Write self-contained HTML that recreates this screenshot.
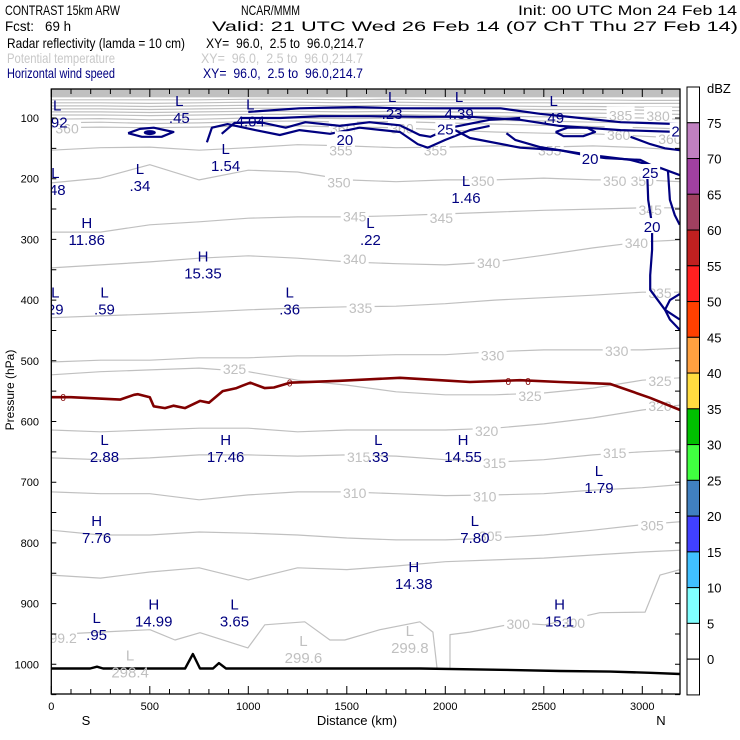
<!DOCTYPE html>
<html><head><meta charset="utf-8"><style>
body{margin:0;background:#fff;}
svg{display:block;font-family:"Liberation Sans",sans-serif;}
#hdr text{white-space:pre;}
</style></head><body>
<svg id="chart" width="740" height="740" viewBox="0 0 740 740" xmlns="http://www.w3.org/2000/svg">
<rect x="0" y="0" width="740" height="740" fill="#fff"/>
<g id="hdr" font-size="14">
<text x="5" y="15" textLength="115" lengthAdjust="spacingAndGlyphs">CONTRAST 15km ARW</text>
<text x="241" y="15" textLength="59" lengthAdjust="spacingAndGlyphs">NCAR/MMM</text>
<text x="518" y="15" textLength="219" lengthAdjust="spacingAndGlyphs">Init: 00 UTC Mon 24 Feb 14</text>
<text x="5" y="31" textLength="66" lengthAdjust="spacingAndGlyphs">Fcst:   69 h</text>
<text x="212" y="31" textLength="526" lengthAdjust="spacingAndGlyphs">Valid: 21 UTC Wed 26 Feb 14 (07 ChT Thu 27 Feb 14)</text>
<text x="7" y="48" textLength="178" lengthAdjust="spacingAndGlyphs">Radar reflectivity (lamda = 10 cm)</text>
<text x="206" y="48" textLength="158" lengthAdjust="spacingAndGlyphs">XY=  96.0,  2.5 to  96.0,214.7</text>
<text x="7" y="63" fill="#c8c8c8" textLength="108" lengthAdjust="spacingAndGlyphs">Potential temperature</text>
<text x="201" y="63" fill="#c8c8c8" textLength="162" lengthAdjust="spacingAndGlyphs">XY=  96.0,  2.5 to  96.0,214.7</text>
<text x="7" y="78" fill="#000080" textLength="108" lengthAdjust="spacingAndGlyphs">Horizontal wind speed</text>
<text x="203" y="78" fill="#000080" textLength="160" lengthAdjust="spacingAndGlyphs">XY=  96.0,  2.5 to  96.0,214.7</text>
</g>
<g id="plot"></g>
<g id="axes"></g>
<g id="cbar"></g>
</svg>
<script>
// ---- data ----
const dist = [0,250,500,750,1000,1250,1500,1750,2000,2250,2500,2750,3000,3193];
const thetaLevels = ['355','350','345','340','335','330','325','320','315','310','305','302'];
const theta355 = [153,149,148,153,149,144,146,149,148,146,148,146,149,153];
const theta350 = [207,199,177,202,186,189,202,205,202,202,199,202,202,205];
const theta345 = [288,288,276,271,265,263,263,261,258,255,252,250,248,248];
const theta340 = [347,342,337,331,327,331,337,340,342,337,326,314,304,301];
const theta335 = [429,426,423,420,416,413,411,410,406,400,396,392,387,387];
const theta330 = [502,499,499,495,495,492,492,490,490,485,482,482,482,479];
const theta325 = [523,518,515,512,518,532,540,551,556,556,553,545,532,528];
const theta320 = [614,617,614,611,611,617,614,614,614,611,604,594,581,573];
const theta315 = [660,663,660,655,655,657,655,657,663,667,663,655,650,647];
const theta310 = [716,719,719,729,721,716,716,719,722,721,719,713,709,704];
const theta305 = [779,787,787,782,784,787,792,795,795,792,787,779,770,765];
const theta302 = [853,858,848,841,861,841,844,838,831,828,825,820,815,812];
const theta360 = [116,115,116,115,113,113,115,116,120,123,125,126,130,133];
const thetaTop1 = [108,107,109,108,106,105,107,106,108,110,112,114,116,118];
const thetaTop2 = [102,101,103,102,100,100,101,100,102,104,105,107,108,110];
const thetaTop3 = [95,95,96,95,94,94,95,94,96,97,98,99,100,102];
const thetaTop4 = [90,90,91,90,89,89,90,89,90,91,92,92,93,94];
const thetaTop5 = [85,85,86,85,84,84,85,84,85,85,86,86,87,88];
const thetaTop6 = [80,80,81,80,79,79,80,79,80,80,81,81,82,82];
const thetaTop7 = [75,75,76,75,74,74,75,74,75,75,75,76,76,76];
const thetaTop8 = [70,70,70,70,69,69,70,69,70,70,70,70,71,71];
const theta300Dist = [0,247,501,628,755,998,1084,1287,1414,1490,1668,1871,1937,1958];
const theta300P = [951,947,943,960,948,973,935,930,960,960,943,930,947,1006];
const theta300bDist = [2024,2024,2125,2364,2506,2785,3014,3090,3192];
const theta300bP = [1006,951,947,932,935,915,914,853,844];
const frzDist = [0,100,349,420,440,500,520,577,620,679,755,800,870,940,970,1010,1084,1130,1211,1465,1770,1973,2125,2379,2582,2836,3039,3192];
const frzP = [560,560,564,556,555,560,575,578,574,578,566,569,550,545,541,536,545,544,536,533,528,532,535,532,535,538,561,581];
const terrDist = [0,197,232,263,679,719,755,821,851,887,1871,2278,2583,2837,3040,3192];
const terrP = [1007,1007,1004,1007,1007,983,1007,1007,998,1007,1007,1009,1011,1012,1014,1016];
const windA_d = [790,815,895,1035,1160,1260,1415,1565,1770,1860,1910,2000,2125,2225];
const windA_p = [140,116,110,120,128,120,126,116,123,143,149,136,120,113];
const windB_d = [865,930,1060,1190,1290,1465,1615,1770,1870,1925,2025,2225,2380];
const windB_p = [126,108,107,116,107,113,107,112,128,131,116,103,100];
const windC_d = [1000,1260,1540,1770,2025,2280,2480,2685,2890,3190];
const windC_p = [90,84,82,84,84,84,93,100,107,110];
const windD_d = [960,1160,1365,1615,1870,2125,2380,2580,2890,3190];
const windD_p = [100,100,97,97,98,98,103,113,120,123];
const windE_d = [2050,2125,2380,2580,2735,2815,2990,3040,3090];
const windE_p = [120,133,149,153,163,166,169,177,186];
const windF_d = [2310,2355,2480,2735,2940,3090,3190];
const windF_p = [125,136,148,161,169,182,194];
const windG_d = [2940,3040,3115,3190];
const windG_p = [131,143,150,153];
const windH_d = [3025,3030,3050,3050,3040,3040,3115,3190];
const windH_p = [191,235,276,317,359,383,416,432];
const windI_d = [3130,3140,3165,3190];
const windI_p = [186,235,260,276];
const windJ_d = [3190,3140,3115,3140,3190];
const windJ_p = [449,432,416,400,390];
const ell1_d = [390,450,520,620,560,460,390];
const ell1_p = [125,118,116,123,131,131,125];
const ell2_d = [2560,2620,2720,2760,2700,2600,2560];
const ell2_p = [123,116,116,123,130,130,123];
const hlType = ['L','L','L','L','L','L','L','L','L','H','L','L','H','L','L','L','L','H','L','H','L','H','L','H','L','H','L','H'];
const hlValue = ['.92','.45','4.04','.23','4.39','.49','1.54','.48','.34','11.86','.22','1.46','15.35','29','.59','.36','2.88','17.46','.33','14.55','1.79','7.76','7.80','14.38','.95','14.99','3.65','15.1'];
const hlDist = [30,650,1010,1730,2070,2550,885,20,450,180,1620,2105,770,20,270,1210,270,885,1660,2090,2780,230,2150,1840,230,520,930,2580];
const hlP = [88,80,86,74,74,80,159,199,192,281,281,212,336,396,396,396,639,639,639,639,690,772,772,848,932,910,910,910];
const grayLType = ['L','L','L'];
const grayLValue = ['299.6','299.8','298.4'];
const grayLDist = [1280,1820,400];
const grayLP = [970,953,994];
const cbarColors = ['#ffffff','#c080c0','#a040a0','#a04060','#c02020','#ff2020','#ff4000','#ffa040','#ffdc40','#00c000','#40ff40','#4080c0','#4040ff','#40c0ff','#80ffff','#ffffff','#ffffff'];
const cbarLabels = ['75','70','65','60','55','50','45','40','35','30','25','20','15','10','5','0'];
const yTicks = [100,200,300,400,500,600,700,800,900,1000];
const xTicks = [0,500,1000,1500,2000,2500,3000];

// ---- scales ----
const X = d => 51.3 + d*0.197;
const Y = p => 118 + (p-100)*0.607;
const NS = 'http://www.w3.org/2000/svg';
const plot = document.getElementById('plot');
const axes = document.getElementById('axes');
const cbar = document.getElementById('cbar');
function mk(tag, parent){ const e=document.createElementNS(NS,tag); parent.appendChild(e); return e; }
function ptsOf(ds, ps){ return ds.map((d,i)=>X(d).toFixed(1)+','+Y(ps[i]).toFixed(1)).join(' '); }

const clip = mk('clipPath', plot); clip.setAttribute('id','pc');
const cr = mk('rect', clip); cr.setAttribute('x',51.3); cr.setAttribute('y',89); cr.setAttribute('width',628.7); cr.setAttribute('height',605);
const inner = mk('g', plot); inner.setAttribute('clip-path','url(#pc)');



const band = mk('rect', inner);


band.setAttribute('x',51); band.setAttribute('y',89); band.setAttribute('width',630); band.setAttribute('height',Y(66)-89); band.setAttribute('fill','#c0c0c0');

function line(ds, ps, color, w, name){
  const l = mk('polyline', inner);
  
  
  l.setAttribute('points', ptsOf(ds, ps));
  l.setAttribute('fill','none'); l.setAttribute('stroke',color); l.setAttribute('stroke-width',w);
  l.setAttribute('stroke-linejoin','round');
  return l;
}
const thetaArrays = [theta355,theta350,theta345,theta340,theta335,theta330,theta325,theta320,theta315,theta310,theta305,theta302];
thetaArrays.forEach((a,i)=> line(dist, a, '#c0c0c0', 1.2, 'theta-contour-'+thetaLevels[i]));
[theta360,thetaTop1,thetaTop2,thetaTop3,thetaTop4,thetaTop5,thetaTop6,thetaTop7,thetaTop8].forEach((a,i)=> line(dist, a, '#c0c0c0', 1.2, 'theta-contour-upper-'+i));
line(theta300Dist, theta300P, '#c0c0c0', 1.2, 'theta-contour-300-west');
line(theta300bDist, theta300bP, '#c0c0c0', 1.2, 'theta-contour-300-east');

const thLabText = ['360','36C','360','355','355','355','360','360','350','350','350','350','345','345','345','340','340','340','335','335','330','330','325','325','325','320','320','315','315','315','310','310','305','305','300','300','99.2','385','380'];
const thLabDist = [80,1480,1780,1470,1950,2530,2880,3140,1460,2190,2860,3000,1540,1980,3040,1540,2220,2970,1570,3090,2240,2870,930,2430,3090,2210,3090,1560,2250,2860,1540,2200,2230,3050,2370,2650,60,2890,3080];
const thLabP = [116,116,116,152,152,152,126,133,205,202,202,202,261,263,250,331,337,304,411,387,490,482,512,556,532,614,573,657,667,650,716,722,787,770,932,930,955,94,95];
thLabText.forEach((t,i)=>{
  const g = mk('g', inner);
  
  
  const r = mk('rect', g);
  r.setAttribute('x', X(thLabDist[i])-14); r.setAttribute('y', Y(thLabP[i])-8); r.setAttribute('width',28); r.setAttribute('height',15); r.setAttribute('fill','#fff');
  const tx = mk('text', g);
  tx.setAttribute('x', X(thLabDist[i])); tx.setAttribute('y', Y(thLabP[i])+6);
  tx.setAttribute('text-anchor','middle'); tx.setAttribute('font-size','14'); tx.setAttribute('fill','#c0c0c0');
  tx.textContent = t;
});

line(frzDist, frzP, '#800000', 2.6, 'freezing-level-line');
[[60,560],[1210,536],[2320,533],[2420,533]].forEach(q=>{
  const t = mk('text', inner);
  
  
  t.setAttribute('x',X(q[0])); t.setAttribute('y',Y(q[1])+4); t.setAttribute('font-size','10'); t.setAttribute('fill','#800000'); t.setAttribute('text-anchor','middle');
  t.textContent='0';
});

const windSets = [[windA_d,windA_p],[windB_d,windB_p],[windC_d,windC_p],[windD_d,windD_p],[windE_d,windE_p],[windF_d,windF_p],[windG_d,windG_p],[windH_d,windH_p],[windI_d,windI_p],[windJ_d,windJ_p],[ell1_d,ell1_p],[ell2_d,ell2_p]];
windSets.forEach((s,i)=> line(s[0], s[1], '#000080', 2.2, 'wind-speed-contour-'+i));
const dot = mk('ellipse', inner);


dot.setAttribute('cx',X(500)); dot.setAttribute('cy',Y(124)); dot.setAttribute('rx',6); dot.setAttribute('ry',2.5); dot.setAttribute('fill','#000080');
const wLabText = ['20','25','20','25','25','20'];
const wLabDist = [1490,2000,2735,3040,3190,3050];
const wLabP = [135,117,166,189,121,278];
wLabText.forEach((t,i)=>{
  const g = mk('g', inner);
  
  
  const r = mk('rect', g);
  r.setAttribute('x',X(wLabDist[i])-10); r.setAttribute('y',Y(wLabP[i])-8); r.setAttribute('width',20); r.setAttribute('height',15); r.setAttribute('fill','#fff');
  const tx = mk('text', g);
  tx.setAttribute('x',X(wLabDist[i])); tx.setAttribute('y',Y(wLabP[i])+6); tx.setAttribute('text-anchor','middle'); tx.setAttribute('font-size','15'); tx.setAttribute('fill','#000080');
  tx.textContent = t;
});

line(terrDist, terrP, '#000', 2.4, 'terrain-surface');

function hl(type, val, d, p, color, name){
  const g = mk('g', inner);
  
  
  const a = mk('text', g); a.setAttribute('x',X(d)); a.setAttribute('y',Y(p)); a.setAttribute('text-anchor','middle'); a.setAttribute('font-size','15'); a.setAttribute('fill',color); a.textContent=type;
  const b = mk('text', g); b.setAttribute('x',X(d)); b.setAttribute('y',Y(p)+17); b.setAttribute('text-anchor','middle'); b.setAttribute('font-size','15'); b.setAttribute('fill',color); b.textContent=val;
}
hlType.forEach((t,i)=> hl(t, hlValue[i], hlDist[i], hlP[i], '#000080', 'wind-extremum-'+hlValue[i]));
grayLType.forEach((t,i)=> hl(t, grayLValue[i], grayLDist[i], grayLP[i], '#c0c0c0', 'theta-minimum-'+grayLValue[i]));

// ---- axes ----
const frame = mk('rect', axes);


frame.setAttribute('x',51.3); frame.setAttribute('y',89); frame.setAttribute('width',628.7); frame.setAttribute('height',605); frame.setAttribute('fill','none'); frame.setAttribute('stroke','#000'); frame.setAttribute('stroke-width','1.3');
let tp='';
for(let d=0; d<=3190; d+=100){ const L = d%500===0?8:5; tp+=`M${X(d)},694v-${L}M${X(d)},89v${L}`; }
for(let p=100; p<=1050; p+=50){ tp+=`M51.3,${Y(p)}h5M680,${Y(p)}h-5`; }
const ticks = mk('path', axes);


ticks.setAttribute('d',tp); ticks.setAttribute('stroke','#000'); ticks.setAttribute('stroke-width','1');
yTicks.forEach(p=>{
  const t = mk('text', axes);
  
  
  t.setAttribute('x',39); t.setAttribute('y',Y(p)+4); t.setAttribute('text-anchor','end'); t.setAttribute('font-size','11'); t.textContent=p;
});
xTicks.forEach(d=>{
  const t = mk('text', axes);
  
  
  t.setAttribute('x',X(d)); t.setAttribute('y',710); t.setAttribute('text-anchor','middle'); t.setAttribute('font-size','11'); t.textContent=d;
});
[['S',86,725,'south-label'],['N',661,725,'north-label'],['Distance (km)',357,725,'x-axis-title']].forEach(a=>{
  const t = mk('text', axes);
  
  
  t.setAttribute('x',a[1]); t.setAttribute('y',a[2]); t.setAttribute('text-anchor','middle'); t.setAttribute('font-size','13'); t.textContent=a[0];
});
const yt = mk('text', axes);


yt.setAttribute('transform','translate(14,390) rotate(-90)'); yt.setAttribute('text-anchor','middle'); yt.setAttribute('font-size','12'); yt.textContent='Pressure (hPa)';

// ---- colorbar ----
const bh = 35.76;
cbarColors.forEach((c,i)=>{
  const r = mk('rect', cbar);
  
  
  r.setAttribute('x',687); r.setAttribute('y',87+i*bh); r.setAttribute('width',12.5); r.setAttribute('height',bh); r.setAttribute('fill',c); r.setAttribute('stroke','#000'); r.setAttribute('stroke-width','1');
});
cbarLabels.forEach((l,i)=>{
  const t = mk('text', cbar);
  
  
  t.setAttribute('x',707); t.setAttribute('y',87+(i+1)*bh+5); t.setAttribute('font-size','13'); t.textContent=l;
});
const dbz = mk('text', cbar);


dbz.setAttribute('x',707); dbz.setAttribute('y',93); dbz.setAttribute('font-size','13'); dbz.textContent='dBZ';
</script>
</body></html>
